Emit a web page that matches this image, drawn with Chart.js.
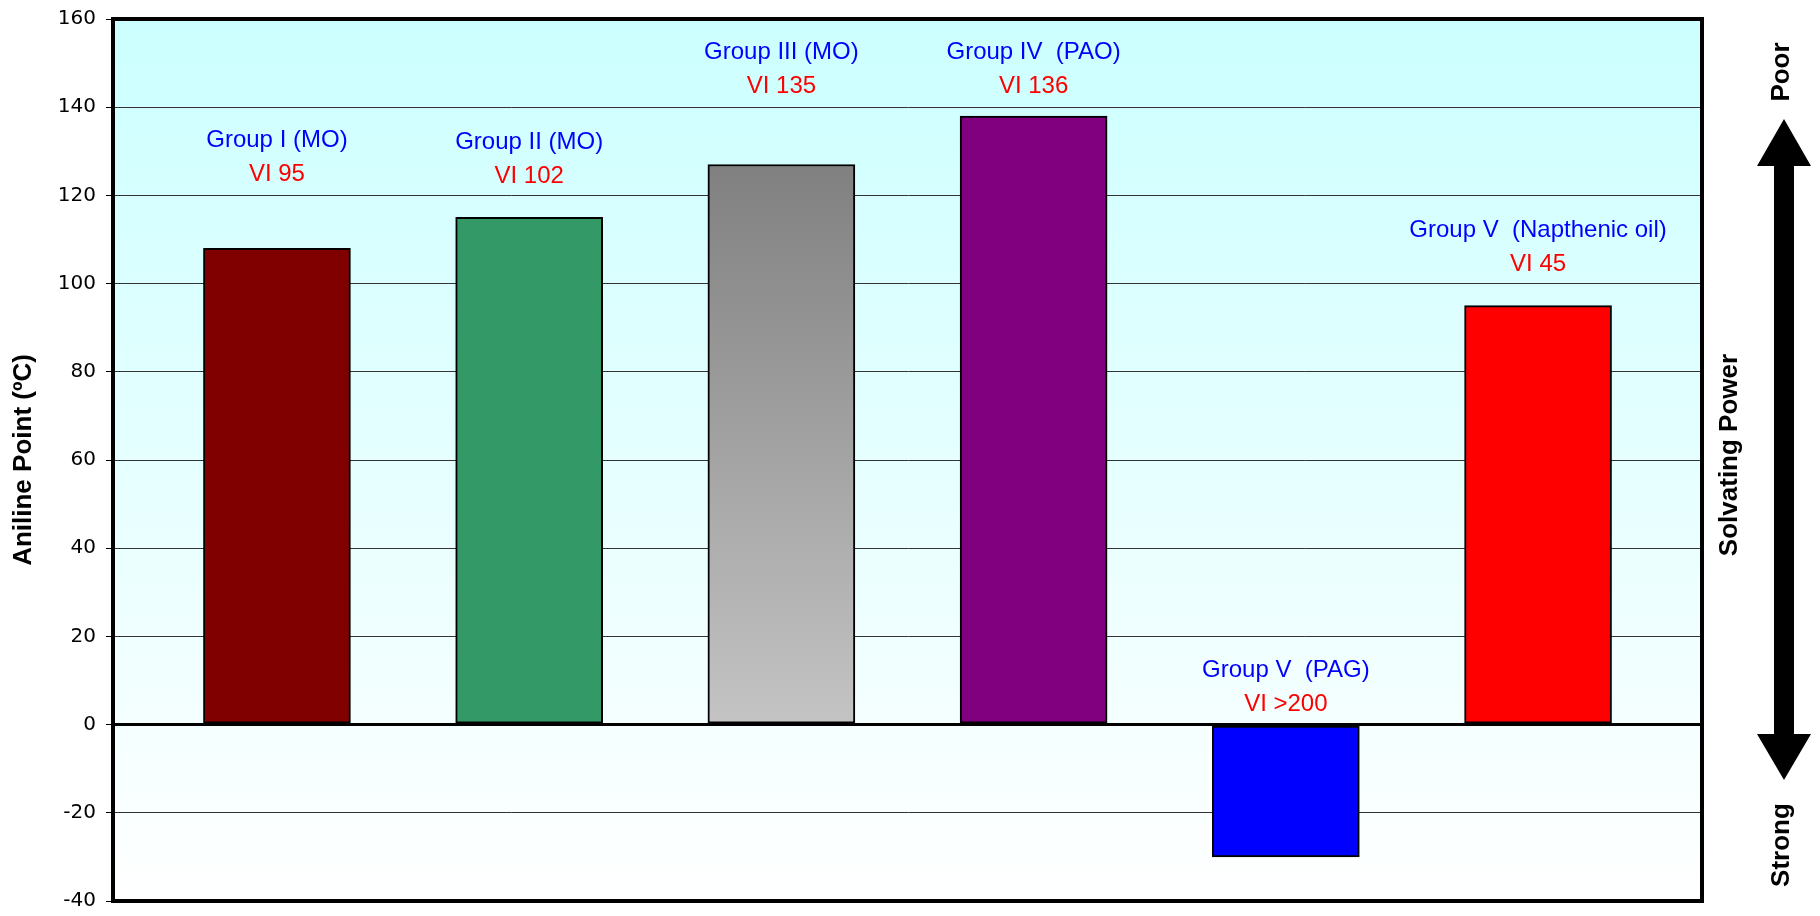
<!DOCTYPE html>
<html>
<head>
<meta charset="utf-8">
<script src="https://cdn.jsdelivr.net/npm/chart.js@4/dist/chart.umd.min.js"></script>
<style>
  html, body { margin: 0; padding: 0; background: #fff; }
  canvas { display: block; }
</style>
</head>
<body>
<canvas id="chart" width="1820" height="916"></canvas>
<script>
// Aniline point by base oil group
const groups = ['Group I (MO)', 'Group II (MO)', 'Group III (MO)', 'Group IV  (PAO)', 'Group V  (PAG)', 'Group V  (Napthenic oil)'];
const viLabels = ['VI 95', 'VI 102', 'VI 135', 'VI 136', 'VI >200', 'VI 45'];
const anilinePoint = [108, 115, 127, 138, -30, 95];
const barColors = ['#800000', '#339966', 'gradient', '#800080', '#0000ff', '#ff0000'];
// where the two-line caption of each bar sits, in axis units
const captionAt = [132.4, 132, 152.4, 152.4, 12.4, 112.1];
const yTicks = { min: -40, max: 160, step: 20 };

Chart.defaults.font.family = '"Liberation Sans", Arial, sans-serif';
Chart.defaults.color = '#000';

function barFill(ctx) {
  const i = ctx.dataIndex;
  if (barColors[i] !== 'gradient') return barColors[i];
  const chart = ctx.chart;
  if (!chart.chartArea) return '#a0a0a0';
  const y = chart.scales.y;
  const g = chart.ctx.createLinearGradient(0, y.getPixelForValue(anilinePoint[i]), 0, y.getPixelForValue(0));
  g.addColorStop(0, '#808080');
  g.addColorStop(1, '#c4c4c4');
  return g;
}

const plotBackground = {
  id: 'plotBackground',
  beforeDraw(chart) {
    const { ctx, chartArea: a } = chart;
    const g = ctx.createLinearGradient(0, a.top, 0, a.bottom);
    g.addColorStop(0, '#ccffff');
    g.addColorStop(1, '#ffffff');
    ctx.save();
    ctx.fillStyle = g;
    ctx.fillRect(a.left, a.top, a.right - a.left, a.bottom - a.top);
    ctx.restore();
  }
};

const captions = {
  id: 'captions',
  afterDatasetsDraw(chart) {
    const { ctx, scales: { x, y } } = chart;
    ctx.save();
    ctx.textAlign = 'center';
    ctx.textBaseline = 'middle';
    ctx.font = '24px "Liberation Sans", Arial, sans-serif';
    groups.forEach((name, i) => {
      const px = x.getPixelForValue(i + 1);
      const py = y.getPixelForValue(captionAt[i]);
      ctx.fillStyle = '#0000ff';
      ctx.fillText(name, px, py);
      ctx.fillStyle = '#ff0000';
      ctx.fillText(viLabels[i], px, py + 34);
    });
    ctx.restore();
  }
};

// frame around the plot plus the "Solvating Power" arrow on the right
const frameAndArrow = {
  id: 'frameAndArrow',
  afterDraw(chart) {
    const { ctx, chartArea: a } = chart;
    ctx.save();
    ctx.strokeStyle = '#000';
    ctx.lineWidth = 4;
    ctx.strokeRect(a.left, a.top, a.right - a.left, a.bottom - a.top);

    const cx = a.right + 82;
    const topTip = 119, topBase = 166, botBase = 734, botTip = 780;
    const half = 27, shaft = 10;
    ctx.fillStyle = '#000';
    ctx.beginPath();
    ctx.moveTo(cx, topTip);
    ctx.lineTo(cx + half, topBase);
    ctx.lineTo(cx + shaft, topBase);
    ctx.lineTo(cx + shaft, botBase);
    ctx.lineTo(cx + half, botBase);
    ctx.lineTo(cx, botTip);
    ctx.lineTo(cx - half, botBase);
    ctx.lineTo(cx - shaft, botBase);
    ctx.lineTo(cx - shaft, topBase);
    ctx.lineTo(cx - half, topBase);
    ctx.closePath();
    ctx.fill();

    ctx.font = 'bold 26px "Liberation Sans", Arial, sans-serif';
    ctx.textAlign = 'center';
    ctx.textBaseline = 'middle';
    const vText = (t, x, y) => {
      ctx.save();
      ctx.translate(x, y);
      ctx.rotate(-Math.PI / 2);
      ctx.fillText(t, 0, 0);
      ctx.restore();
    };
    vText('Solvating Power', a.right + 28, 455);
    vText('Poor', a.right + 80, 72);
    vText('Strong', a.right + 80, 845);
    ctx.restore();
  }
};

new Chart(document.getElementById('chart'), {
  type: 'bar',
  data: {
    datasets: [{
      data: anilinePoint.map((v, i) => ({ x: i + 1, y: v })),
      backgroundColor: barFill,
      borderColor: '#000',
      borderWidth: 2,
      borderSkipped: false,
      barThickness: 147
    }]
  },
  options: {
    responsive: false,
    animation: false,
    devicePixelRatio: 1,
    layout: { padding: { left: 0, top: 19, right: 118, bottom: 15 } },
    plugins: { legend: { display: false }, tooltip: { enabled: false } },
    scales: {
      x: {
        type: 'linear',
        min: 0.35,
        max: 6.65,
        offset: false,
        display: false
      },
      y: {
        min: yTicks.min,
        max: yTicks.max,
        afterFit(scale) {
          scale.width = 113;
          scale.paddingTop = 0;
          scale.paddingBottom = 0;
        },
        ticks: {
          stepSize: yTicks.step,
          color: '#000',
          padding: 10,
          font: { family: '"DejaVu Sans", sans-serif', size: 20 }
        },
        grid: {
          color: c => c.tick && c.tick.value === 0 ? '#000' : '#333',
          lineWidth: c => c.tick && c.tick.value === 0 ? 3 : 1,
          tickColor: '#000',
          tickLength: 7,
          tickWidth: 1
        },
        border: { display: true, color: '#000', width: 4 },
        title: {
          display: true,
          text: 'Aniline Point (ºC)',
          color: '#000',
          font: { size: 26, weight: 'bold' },
          padding: { top: 8, bottom: 0 }
        }
      }
    }
  },
  plugins: [plotBackground, captions, frameAndArrow]
});
</script>
</body>
</html>
